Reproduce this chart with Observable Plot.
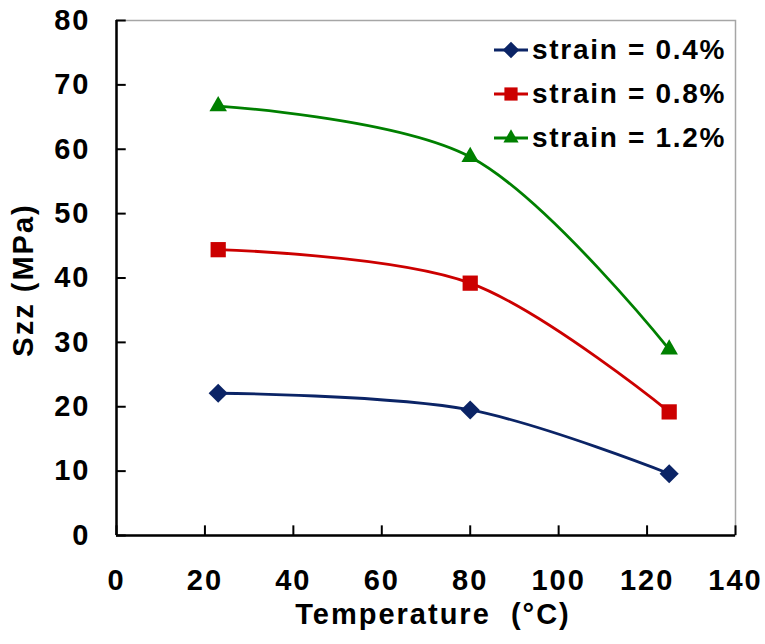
<!DOCTYPE html>
<html>
<head>
<meta charset="utf-8">
<script src="https://cdn.jsdelivr.net/npm/d3@7"></script>
<script src="https://cdn.jsdelivr.net/npm/@observablehq/plot@0.6"></script>
<style>
  html, body { margin: 0; padding: 0; background: #fff; }
  #wrap { position: relative; width: 765px; height: 644px; }
  #legend { position: absolute; left: 494px; top: 28px; font-family: "Liberation Sans", Arial, sans-serif;
            font-weight: bold; font-size: 28px; letter-spacing: 1.7px; color: #000; }
  .row { display: flex; align-items: center; height: 44px; }
  .row svg { margin-right: 4px; }
</style>
</head>
<body>
<div id="wrap"><div id="legend"></div></div>
<script>
const temps = [23, 80, 125];
const strain04 = [22.1, 19.5, 9.6];
const strain08 = [44.4, 39.2, 19.2];
const strain12 = [66.7, 58.8, 28.9];
const seriesNames = ["strain = 0.4%", "strain = 0.8%", "strain = 1.2%"];
const seriesColors = ["#0b2466", "#cc0000", "#008000"];
const seriesSymbols = ["diamond2", "square", "triangle"];
const xTicks = [0, 20, 40, 60, 80, 100, 120, 140];
const yTicks = [0, 10, 20, 30, 40, 50, 60, 70, 80];

const seriesValues = [strain04, strain08, strain12];
const symbolR = [8.6, 8.6, 6.5];

const rows = [];
seriesValues.forEach((vals, i) => vals.forEach((v, j) => rows.push({series: seriesNames[i], t: temps[j], v})));

const marks = [
  Plot.frame({stroke: "#a6a6a6", strokeWidth: 1.5}),
  Plot.ruleY(yTicks, {y: d => d, x1: 0, x2: 2.2, stroke: "#000", strokeWidth: 2}),
  Plot.ruleX(xTicks, {x: d => d, y1: 0, y2: 1.5, stroke: "#000", strokeWidth: 2}),
  Plot.ruleX([0], {stroke: "#000", strokeWidth: 2.5}),
  Plot.ruleY([0], {stroke: "#000", strokeWidth: 2.5}),
  Plot.axisX({ticks: xTicks, tickSize: 0, tickPadding: 34, tickFormat: d => d, label: null}),
  Plot.axisY({ticks: yTicks, tickSize: 0, tickPadding: 26, tickFormat: d => d, label: null}),
  Plot.text(["Temperature  (°C)"], {frameAnchor: "bottom", textAnchor: "middle", dx: 7, dy: 79, lineAnchor: "middle", fontSize: 29}),
  Plot.text(["Szz (MPa)"], {frameAnchor: "left", textAnchor: "middle", dx: -93, dy: 2, rotate: -90, lineAnchor: "middle", fontSize: 29})
];
seriesNames.forEach((name, i) => {
  const data = rows.filter(d => d.series === name);
  marks.push(Plot.line(data, {x: "t", y: "v", stroke: seriesColors[i], strokeWidth: 2.8, curve: "catmull-rom"}));
  marks.push(Plot.dot(data, {x: "t", y: "v", fill: seriesColors[i], stroke: "none", symbol: seriesSymbols[i], r: symbolR[i]}));
});

const chart = Plot.plot({
  width: 765,
  height: 644,
  marginLeft: 116,
  marginRight: 30,
  marginTop: 20,
  marginBottom: 109,
  x: {domain: [0, 140]},
  y: {domain: [0, 80]},
  style: {fontFamily: "'Liberation Sans', Arial, sans-serif", fontWeight: "bold", fontSize: "29px", letterSpacing: "2px", color: "#000", background: "#fff", overflow: "visible"},
  marks
});
document.getElementById("wrap").prepend(chart);

// Legend
const legend = document.getElementById("legend");
const symMap = {diamond2: d3.symbolDiamond2, square: d3.symbolSquare, triangle: d3.symbolTriangle};
seriesNames.forEach((name, i) => {
  const row = document.createElement("div");
  row.className = "row";
  const sw = d3.create("svg").attr("width", 34).attr("height", 20);
  sw.append("line").attr("x1", 0).attr("x2", 34).attr("y1", 10).attr("y2", 10)
    .attr("stroke", seriesColors[i]).attr("stroke-width", 2.8);
  const size = Math.PI * symbolR[i] * symbolR[i] * 0.75;
  sw.append("path").attr("transform", "translate(17,10)")
    .attr("d", d3.symbol(symMap[seriesSymbols[i]], size)()).attr("fill", seriesColors[i]);
  row.appendChild(sw.node());
  const span = document.createElement("span");
  span.textContent = name;
  row.appendChild(span);
  legend.appendChild(row);
});
</script>
</body>
</html>
